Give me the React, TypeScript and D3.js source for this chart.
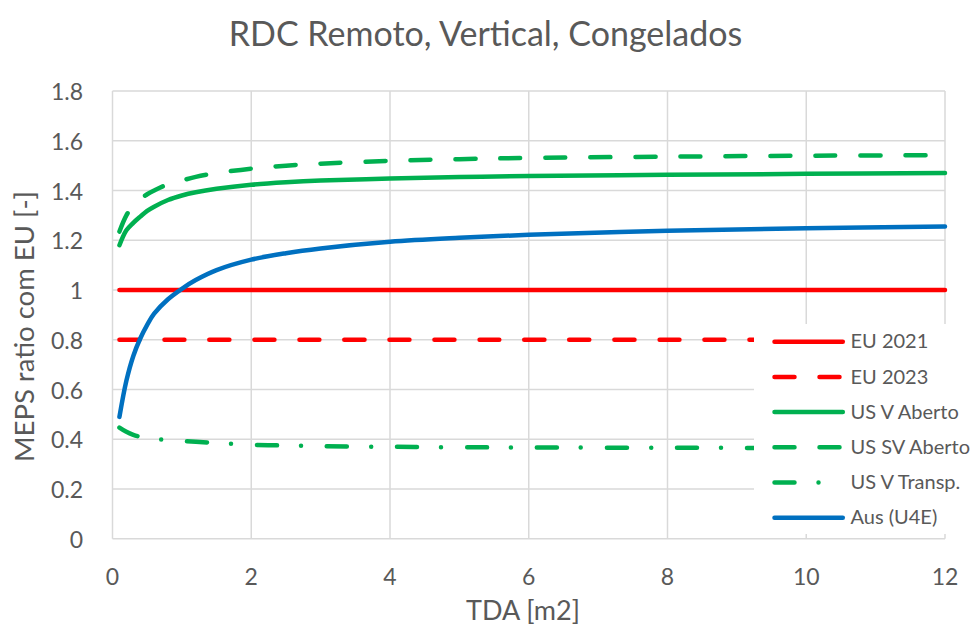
import React from "react";
import * as d3 from "d3";

const tda = [0.1, 0.2, 0.3, 0.4, 0.5, 0.6, 0.8, 1, 1.2, 1.5, 2, 2.5, 3, 4, 5, 6, 8, 10, 12];
const eu2021 = tda.map(() => 1.0);
const eu2023 = tda.map(() => 0.8);
const usVAberto = [1.18, 1.24, 1.27, 1.295, 1.318, 1.335, 1.362, 1.38, 1.393, 1.407, 1.423, 1.433, 1.44, 1.448, 1.454, 1.458, 1.463, 1.467, 1.47];
const usSVAberto = [1.235, 1.3, 1.34, 1.365, 1.385, 1.4, 1.425, 1.44, 1.455, 1.47, 1.488, 1.5, 1.508, 1.519, 1.526, 1.531, 1.536, 1.54, 1.542];
const usVTransp = [0.447, 0.43, 0.418, 0.41, 0.406, 0.402, 0.397, 0.393, 0.39, 0.385, 0.378, 0.375, 0.372, 0.37, 0.368, 0.367, 0.366, 0.365, 0.365];
const ausU4E = [0.49, 0.635, 0.735, 0.805, 0.86, 0.905, 0.963, 1.005, 1.04, 1.08, 1.122, 1.148, 1.167, 1.194, 1.21, 1.222, 1.238, 1.248, 1.255];

const xTicks = [0, 2, 4, 6, 8, 10, 12];
const yTicks = [0, 0.2, 0.4, 0.6, 0.8, 1, 1.2, 1.4, 1.6, 1.8];

const seriesNames = ["EU 2021", "EU 2023", "US V Aberto", "US SV Aberto", "US V Transp.", "Aus (U4E)"];
const seriesValues = [eu2021, eu2023, usVAberto, usSVAberto, usVTransp, ausU4E];
const seriesColors = ["#FF0000", "#FF0000", "#00B050", "#00B050", "#00B050", "#0070C0"];
const seriesDash = ["", "20 25", "", "20 25", "20 24 0 26", ""];

const TITLE = "RDC Remoto, Vertical, Congelados";
const XLABEL = "TDA [m2]";
const YLABEL = "MEPS ratio com EU [-]";

export default function App() {
  const W = 980, H = 628;
  const x = d3.scaleLinear().domain([0, 12]).range([112.5, 945]);
  const y = d3.scaleLinear().domain([0, 1.8]).range([538.8, 91]);
  const line = d3
    .line<number>()
    .x((_, i) => x(tda[i]))
    .y((d) => y(d))
    .curve(d3.curveCatmullRom.alpha(0.5));
  const font = "Lato, 'Open Sans', sans-serif";
  const txt = "#595959";
  const grid = "#D9D9D9";
  const lw = 4.5;
  const legX0 = 774.5, legX1 = 842.8;
  const legY0 = 341.7, legDy = 35.2;

  return (
    <svg width={W} height={H} style={{ position: "absolute", left: 0, top: 0, background: "#fff" }} fontFamily={font}>
      <rect x={0} y={0} width={W} height={H} fill="#fff" />
      {yTicks.map((t) => (
        <line key={"gy" + t} x1={x(0)} x2={x(12)} y1={y(t)} y2={y(t)} stroke={grid} strokeWidth={1.5} />
      ))}
      {xTicks.map((t) => (
        <line key={"gx" + t} x1={x(t)} x2={x(t)} y1={y(0)} y2={y(1.8)} stroke={grid} strokeWidth={1.5} />
      ))}
      {seriesValues.map((vals, i) => (
        <path
          key={"s" + i}
          d={line(vals) || ""}
          fill="none"
          stroke={seriesColors[i]}
          strokeWidth={lw}
          strokeLinecap="round"
          strokeLinejoin="round"
          strokeDasharray={seriesDash[i] || undefined}
        />
      ))}
      <rect x={754} y={324} width={196} height={210} fill="#fff" />
      {seriesNames.map((n, i) => (
        <g key={"l" + i}>
          <line
            x1={legX0}
            x2={legX1}
            y1={legY0 + i * legDy}
            y2={legY0 + i * legDy}
            stroke={seriesColors[i]}
            strokeWidth={lw}
            strokeLinecap="round"
            strokeDasharray={seriesDash[i] || undefined}
          />
          <text x={850.5} y={legY0 + i * legDy + 6.7} fontSize={20} fill={txt}>
            {n}
          </text>
        </g>
      ))}
      {yTicks.map((t) => (
        <text key={"ty" + t} x={83} y={y(t) + 9} textAnchor="end" fontSize={23} fill={txt}>
          {+t.toFixed(1)}
        </text>
      ))}
      {xTicks.map((t) => (
        <text key={"tx" + t} x={x(t)} y={585} textAnchor="middle" fontSize={23} fill={txt}>
          {t}
        </text>
      ))}
      <text x={485.5} y={46} textAnchor="middle" fontSize={34} fill={txt}>
        {TITLE}
      </text>
      <text x={523} y={620} textAnchor="middle" fontSize={27} fill={txt}>
        {XLABEL}
      </text>
      <text transform={`translate(34,326.5) rotate(-90)`} textAnchor="middle" fontSize={27.5} fill={txt}>
        {YLABEL}
      </text>
    </svg>
  );
}
